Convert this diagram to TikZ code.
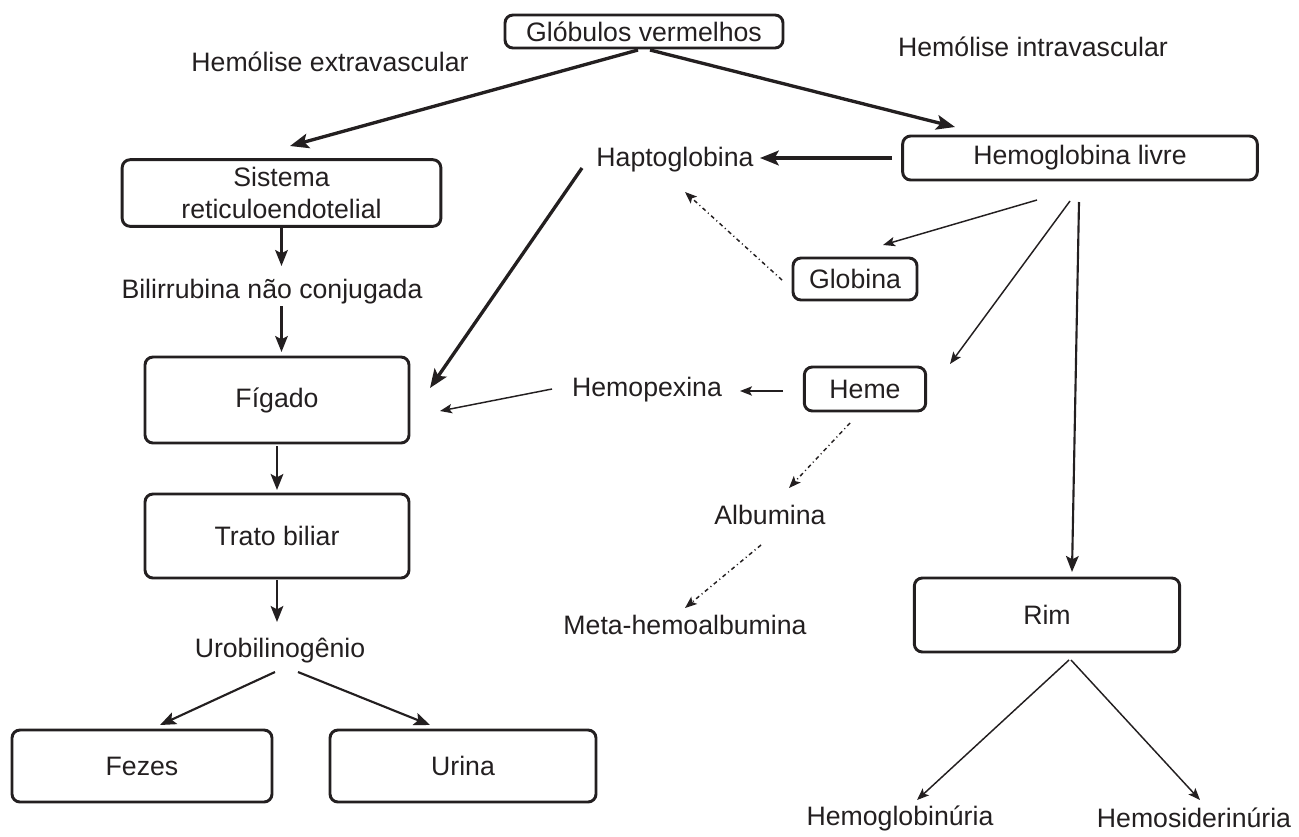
\documentclass[tikz,border=0pt]{standalone}
\usepackage{fontspec}
\setmainfont{Liberation Sans}
\usetikzlibrary{arrows.meta,calc}
\definecolor{ink}{HTML}{231F20}
\begin{document}
\begin{tikzpicture}[x=0.75pt,y=-0.75pt,
  every node/.style={text=ink,font=\fontsize{20}{24}\selectfont},
  box/.style={draw=ink,line width=2.2pt,rounded corners=6pt,inner sep=0pt,align=center},
  lbl/.style={inner sep=0pt},
  thickarr/.style={draw=ink,line width=2.5pt,-{Stealth[length=14pt,width=11pt,inset=3pt]}},
  medarr/.style={draw=ink,line width=1.6pt,-{Stealth[length=12pt,width=9.5pt,inset=2.5pt]}},
  thinarr/.style={draw=ink,line width=1.1pt,-{Stealth[length=9pt,width=7pt,inset=2pt]}},
  dotarr/.style={draw=ink,line width=1.1pt,dash pattern={on 3pt off 2.4pt on 0.8pt off 2.4pt},-{Stealth[length=9pt,width=7pt,inset=2pt]}}]
\useasboundingbox (0,0) rectangle (1299,836);

% boxes
\node[box,minimum width=208.5pt,minimum height=24.75pt] (glob) at (644,31.5) {Glóbulos vermelhos};
\node[box,minimum width=239pt,minimum height=50pt] (sre) at (281.5,193) {Sistema\\reticuloendotelial};
\node[box,minimum width=198pt,minimum height=64.5pt] (figado) at (277,400) {Fígado};
\node[box,minimum width=198pt,minimum height=63pt] (trato) at (277,536) {Trato biliar};
\node[box,minimum width=195pt,minimum height=54pt] (fezes) at (142,766) {Fezes};
\node[box,minimum width=199.5pt,minimum height=54pt] (urina) at (463,766) {Urina};
\node[box,minimum width=266pt,minimum height=33pt] (hemolivre) at (1080,158) {Hemoglobina livre};
\node[box,minimum width=93pt,minimum height=31.5pt] (globina) at (855,279) {Globina};
\node[box,minimum width=91pt,minimum height=33pt] (heme) at (865,389) {Heme};
\node[box,minimum width=199pt,minimum height=55.5pt] (rim) at (1047,615) {Rim};

% plain labels
\node[lbl] (hext) at (330,62) {Hemólise extravascular};
\node[lbl] (hint) at (1033,47) {Hemólise intravascular};
\node[lbl] (hapto) at (675,160) {Haptoglobina};
\node[lbl] (bili) at (272,292) {Bilirrubina não conjugada};
\node[lbl] (hemopexina) at (647,390) {Hemopexina};
\node[lbl] (albumina) at (770,515) {Albumina};
\node[lbl] (meta) at (685,625) {Meta-hemoalbumina};
\node[lbl] (urob) at (280,651) {Urobilinogênio};
\node[lbl] (hglob) at (900,818) {Hemoglobinúria};
\node[lbl] (hsid) at (1194,818) {Hemosiderinúria};

% main branches
\draw[thickarr] ($(glob)+(-6,18.5)$) -- ($(sre)+(8.5,-47)$);
\draw[thickarr] ($(glob)+(6,18.5)$) -- ($(hemolivre)+(-125,-31)$);
\draw[thickarr] ($(hemolivre)+(-188,0)$) -- ($(hapto)+(85,-2)$);
\draw[thickarr] ($(hapto)+(-93,8)$) -- ($(figado)+(153,-12)$);

% extravascular chain
\draw[medarr] ($(sre)+(0,35)$) -- ($(bili)+(9.5,-26)$);
\draw[medarr] ($(bili)+(9.5,14)$) -- ($(figado)+(4.5,-48)$);
\draw[medarr] ($(figado)+(0,46)$) -- ($(trato)+(0,-46)$);
\draw[medarr] ($(trato)+(0,44)$) -- ($(urob)+(-3,-29)$);
\draw[medarr] ($(urob)+(-5,21)$) -- ($(fezes)+(18,-41)$);
\draw[medarr] ($(urob)+(18,21)$) -- ($(urina)+(-33,-41)$);

% intravascular chain
\draw[thinarr] ($(hemolivre)+(-43,42)$) -- ($(globina)+(28,-34)$);
\draw[thinarr] ($(hemolivre)+(-10,43)$) -- ($(heme)+(85,-25)$);
\draw[medarr] ($(hemolivre)+(-1,44)$) -- ($(rim)+(25,-43)$);
\draw[dotarr] ($(globina)+(-73,1)$) -- ($(hapto)+(10,32)$);
\draw[thinarr] ($(heme)+(-82,2)$) -- ($(hemopexina)+(93,1)$);
\draw[thinarr] ($(hemopexina)+(-95,-1)$) -- ($(figado)+(163,11)$);
\draw[dotarr] ($(heme)+(-15,34)$) -- ($(albumina)+(19,-27)$);
\draw[dotarr] ($(albumina)+(-9,30)$) -- ($(meta)+(0,-17)$);
\draw[thinarr] ($(rim)+(22,45)$) -- ($(hglob)+(17,-18)$);
\draw[thinarr] ($(rim)+(24,45)$) -- ($(hsid)+(6,-18)$);
\end{tikzpicture}
\end{document}
